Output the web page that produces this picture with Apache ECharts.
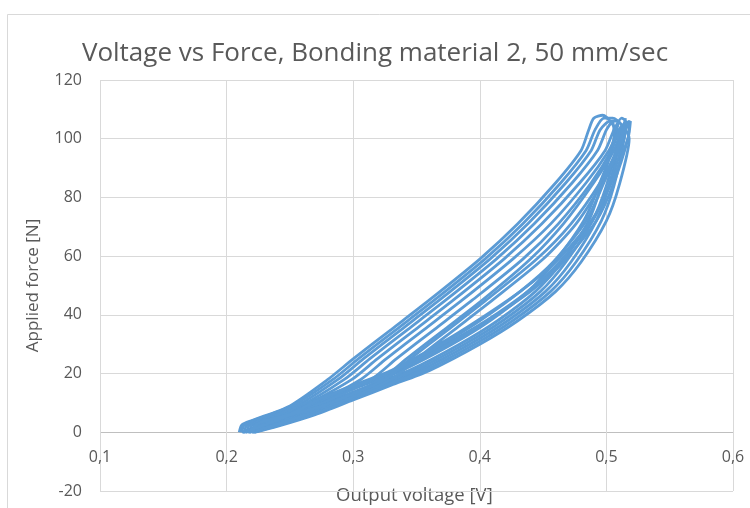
<!DOCTYPE html>
<html>
<head>
<meta charset="utf-8">
<script src="https://cdn.jsdelivr.net/npm/echarts@6/dist/echarts.min.js"></script>
<style>
html,body{margin:0;padding:0;background:#fff;}
#c{width:750px;height:508px;}
</style>
</head>
<body>
<div id="c"></div>
<script>
const titleText = 'Voltage vs Force, Bonding material 2, 50 mm/sec';
const xAxisName = 'Output voltage [V]';
const yAxisName = 'Applied force [N]';
const xTicks = [0.1, 0.2, 0.3, 0.4, 0.5, 0.6];
const yTicks = [-20, 0, 20, 40, 60, 80, 100, 120];

// Each loop: [voltage V, force N] (rising branch, then falling branch)
const loop1 = [[0.210,0],[0.212,2.5],[0.220,4],[0.250,9],[0.280,18],[0.300,25],[0.330,35],[0.360,45],[0.400,59],[0.430,71],[0.460,85],[0.480,96],[0.486,103],[0.490,107],[0.497,108],
  [0.510,100],[0.502,84],[0.492,72],[0.472,58],[0.452,48],[0.422,38],[0.392,30],[0.352,21],[0.322,16],[0.292,11],[0.265,6],[0.237,2],[0.220,0]];
const loop2 = [[0.211,0],[0.213,2.5],[0.221,4],[0.252,9],[0.284,18],[0.304,25],[0.334,35],[0.364,45],[0.404,59],[0.434,71],[0.464,85],[0.484,96],[0.491,103],[0.498,107],[0.505,107],
  [0.518,100],[0.510,84],[0.500,72],[0.480,58],[0.460,48],[0.430,38],[0.400,30],[0.360,21],[0.330,16],[0.300,11],[0.270,6],[0.240,2],[0.222,0]];
const loop3 = [[0.212,0],[0.214,2.5],[0.222,4],[0.255,9],[0.288,18],[0.308,25],[0.338,35],[0.368,45],[0.408,59],[0.438,71],[0.468,85],[0.488,96],[0.495,103],[0.503,106],[0.510,106],
  [0.506,100],[0.496,84],[0.486,72],[0.465,58],[0.444,48],[0.414,38],[0.384,30],[0.344,21],[0.314,16],[0.284,11],[0.260,6],[0.234,2],[0.217,0]];
const loop4 = [[0.214,0],[0.216,2.5],[0.224,4],[0.258,9],[0.293,18],[0.313,25],[0.343,35],[0.373,45],[0.413,59],[0.443,71],[0.473,85],[0.493,96],[0.500,103],[0.505,106],
  [0.506,100],[0.494,84],[0.482,72],[0.459,58],[0.438,48],[0.408,38],[0.378,30],[0.338,21],[0.308,16],[0.278,11],[0.256,6],[0.230,2],[0.215,0]];
const loop5 = [[0.216,0],[0.218,2.5],[0.226,4],[0.261,9],[0.299,18],[0.319,25],[0.349,35],[0.379,45],[0.419,59],[0.449,71],[0.479,85],[0.499,96],[0.506,103],[0.512,107],[0.515,106],
  [0.514,100],[0.506,84],[0.496,72],[0.476,58],[0.456,48],[0.426,38],[0.396,30],[0.356,21],[0.326,16],[0.296,11],[0.268,6],[0.238,2],[0.221,0]];
const loop6 = [[0.218,0],[0.220,2.5],[0.228,4],[0.266,9],[0.306,18],[0.326,25],[0.356,35],[0.386,45],[0.426,59],[0.456,71],[0.484,85],[0.502,96],[0.510,103],[0.516,106],
  [0.514,100],[0.502,84],[0.489,72],[0.463,58],[0.438,48],[0.405,38],[0.373,30],[0.333,21],[0.302,16],[0.273,11],[0.252,6],[0.228,2],[0.213,0]];
const loop7 = [[0.220,0],[0.222,2.5],[0.230,4],[0.270,9],[0.314,18],[0.334,25],[0.364,35],[0.394,45],[0.434,59],[0.462,71],[0.488,85],[0.504,96],[0.510,103],[0.513,105],
  [0.510,100],[0.500,84],[0.489,72],[0.468,58],[0.448,48],[0.418,38],[0.388,30],[0.348,21],[0.318,16],[0.288,11],[0.263,6],[0.235,2],[0.218,0]];
const loop8 = [[0.222,0],[0.224,2.5],[0.232,4],[0.275,9],[0.322,18],[0.342,25],[0.372,35],[0.402,45],[0.440,59],[0.466,71],[0.490,85],[0.506,96],[0.512,103],[0.518,106],
  [0.517,100],[0.505,84],[0.492,72],[0.466,58],[0.440,48],[0.406,38],[0.375,30],[0.335,21],[0.305,16],[0.274,11],[0.250,6],[0.226,2],[0.212,0]];
const loop9 = [[0.224,0],[0.226,2.5],[0.234,4],[0.280,9],[0.330,18],[0.350,25],[0.380,35],[0.410,45],[0.450,59],[0.476,71],[0.497,85],[0.510,96],[0.515,103],[0.519,106],
  [0.517,100],[0.503,84],[0.488,72],[0.460,58],[0.432,48],[0.398,38],[0.368,30],[0.330,21],[0.300,16],[0.271,11],[0.249,6],[0.226,2],[0.213,0]];
const loop10 = [[0.221,0],[0.223,2.5],[0.231,4],[0.276,9],[0.325,18],[0.345,25],[0.375,35],[0.405,45],[0.445,59],[0.472,71],[0.495,85],[0.508,96],[0.513,103],[0.515,107],
  [0.512,100],[0.497,84],[0.484,72],[0.458,58],[0.432,48],[0.400,38],[0.370,30],[0.332,21],[0.302,16],[0.272,11],[0.250,6],[0.227,2],[0.214,0]];
const loops = [loop1, loop2, loop3, loop4, loop5, loop6, loop7, loop8, loop9, loop10];

const chart = echarts.init(document.getElementById('c'), null, {renderer: 'canvas'});
const FONT = 'Open Sans';
const TXT = '#595959';
const GRID = '#d9d9d9';
const ZERO = '#bfbfbf';

chart.setOption({
  backgroundColor: '#ffffff',
  animation: false,
  title: {
    text: titleText,
    left: 'center',
    top: 36,
    textStyle: {fontFamily: FONT, fontSize: 26, fontWeight: 'normal', color: TXT}
  },
  graphic: [
    {type: 'rect', left: 5, top: 12, shape: {width: 800, height: 600}, style: {fill: 'none', stroke: GRID, lineWidth: 1}, silent: true, z: -1},
    {type: 'text', left: 336, top: 486, style: {text: xAxisName, fontFamily: FONT, fontSize: 18.5, fill: TXT}}
  ],
  grid: {left: 100, right: 17, top: 80, bottom: 17, containLabel: false, outerBoundsMode: 'none'},
  xAxis: {
    type: 'value',
    position: 'bottom',
    min: xTicks[0], max: xTicks[xTicks.length - 1], interval: 0.1,
    axisLine: {show: false, onZero: false},
    axisTick: {show: false},
    axisLabel: {
      margin: -42, verticalAlign: 'top', fontFamily: FONT, fontSize: 16, color: TXT,
      formatter: v => v.toFixed(1).replace('.', ',')
    },
    splitLine: {show: true, lineStyle: {color: GRID, width: 1}}
  },
  yAxis: {
    type: 'value',
    min: yTicks[0], max: yTicks[yTicks.length - 1], interval: 20,
    name: yAxisName, nameLocation: 'middle', nameGap: 58,
    nameTextStyle: {fontFamily: FONT, fontSize: 17, color: TXT},
    axisLine: {show: false},
    axisTick: {show: false},
    axisLabel: {margin: 18, fontFamily: FONT, fontSize: 16, color: TXT},
    splitLine: {show: true, lineStyle: {color: yTicks.map(t => t === 0 ? ZERO : GRID), width: 1.2}}
  },
  series: loops.map((d, i) => ({
    type: 'line',
    name: 'loop' + (i + 1),
    data: d,
    showSymbol: false,
    smooth: 0.25,
    lineStyle: {color: '#5b9bd5', width: 2.8},
    itemStyle: {color: '#5b9bd5'}
  }))
});
</script>
</body>
</html>
